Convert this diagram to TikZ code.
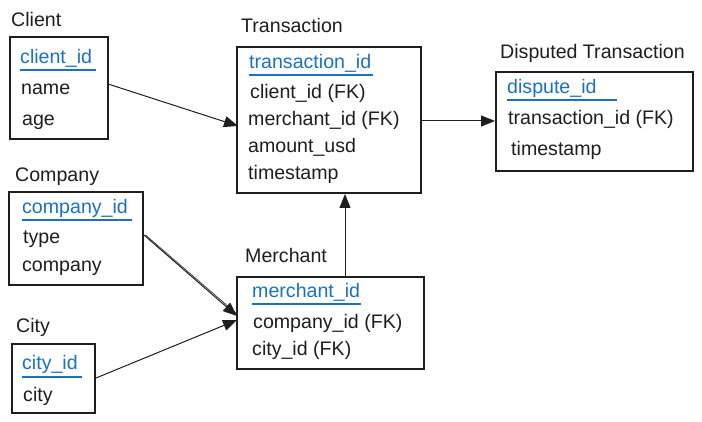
\documentclass[tikz,border=0pt]{standalone}
\usepackage{fontspec}
\setmainfont{Liberation Sans}
\usetikzlibrary{arrows.meta}
\definecolor{ink}{HTML}{1E1E1E}
\definecolor{keyblue}{HTML}{1971C2}
\tikzset{
  tbl/.style={draw=ink, line width=1.8pt, inner sep=0pt},
  ttl/.style={anchor=west, inner sep=0pt, font=\fontsize{19.6}{21}\selectfont, text=ink, text height=15pt, text depth=4pt},
  fld/.style={ttl},
  pk/.style={ttl, text=keyblue},
  uline/.style={draw=keyblue, line width=1.4pt},
  rel/.style={draw=ink, line width=1pt, -{Triangle[length=14pt,width=11pt]}},
}
\begin{document}
\begin{tikzpicture}[x=1pt,y=-1pt]
\useasboundingbox (0,0) rectangle (702,422);
% Client
\node[ttl] (tClient) at (11,21) {Client};
\draw[tbl] (10,37) rectangle (108,139);
\coordinate (clientR) at (108,84);
\node[pk] (cid) at (20,58) {client\_id};
\draw[uline] (20,70) -- (96,70);
\node[fld] (cname) at (21,89) {name};
\node[fld] (cage) at (22,120) {age};
% Transaction
\node[ttl] (tTrans) at (241,27) {Transaction};
\draw[tbl] (237,47) rectangle (421,193);
\node[pk] (tid) at (249,63) {transaction\_id};
\draw[uline] (249,75) -- (373,75);
\node[fld] (tc) at (250,93) {client\_id (FK)};
\node[fld] (tm) at (248,120) {merchant\_id (FK)};
\node[fld] (ta) at (248,147) {amount\_usd};
\node[fld] (tt) at (248,174) {timestamp};
\coordinate (transL) at (238,126);
\coordinate (transR) at (422,121);
\coordinate (transB) at (345,194);
% Disputed
\node[ttl] (tDisp) at (500,53) {Disputed Transaction};
\draw[tbl] (496,72) rectangle (693,171);
\node[pk] (did) at (507,88) {dispute\_id};
\draw[uline] (507,100) -- (617,100);
\node[fld] (dt) at (508,119) {transaction\_id (FK)};
\node[fld] (dts) at (511,150) {timestamp};
\coordinate (dispL) at (495,121);
% Company
\node[ttl] (tComp) at (15,176) {Company};
\draw[tbl] (9,192) rectangle (143,285);
\node[pk] (coid) at (22,208) {company\_id};
\draw[uline] (22,220) -- (132,220);
\node[fld] (cotype) at (23,238) {type};
\node[fld] (coco) at (22,266) {company};
\coordinate (compR) at (144,235);
% City
\node[ttl] (tCity) at (16,327) {City};
\draw[tbl] (12,344) rectangle (95,413);
\node[pk] (ctid) at (22,364) {city\_id};
\draw[uline] (22,377) -- (82,377);
\node[fld] (ctcity) at (23,396) {city};
\coordinate (cityR) at (96,378);
% Merchant
\node[ttl] (tMerch) at (245,257) {Merchant};
\draw[tbl] (237,277) rectangle (424,369);
\node[pk] (mid) at (252,292) {merchant\_id};
\draw[uline] (252,304) -- (361,304);
\node[fld] (mco) at (253,323) {company\_id (FK)};
\node[fld] (mci) at (252,350) {city\_id (FK)};
\coordinate (merchT) at (345,276);
\coordinate (merchL1) at (237,316);
\coordinate (merchL2) at (237,320);
% connectors
\draw[rel] (clientR) -- (transL);
\draw[rel] (transR) -- (dispL);
\draw[rel] (merchT) -- (transB);
\draw[rel] (compR) -- (merchL1);
\draw[draw=ink, line width=0.6pt] ([xshift=1.5pt]compR) -- ([yshift=2pt]merchL1);
\draw[rel] (cityR) -- (merchL2);
\end{tikzpicture}
\end{document}
